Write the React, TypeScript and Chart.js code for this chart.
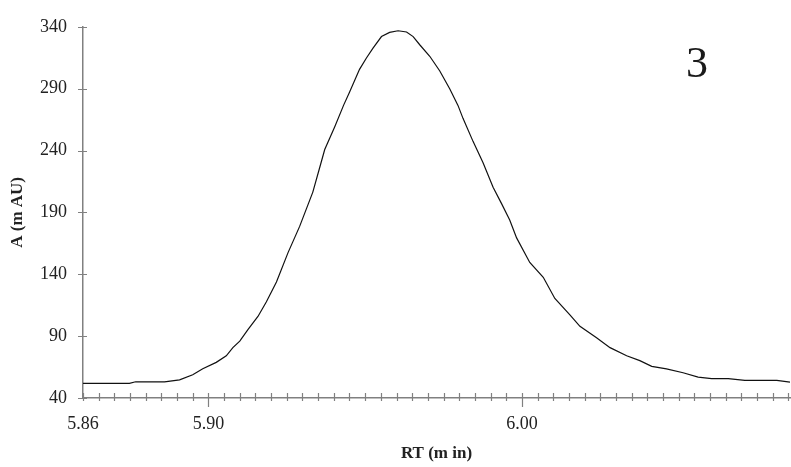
import React, { useEffect, useRef } from 'react';
import { Chart, registerables } from 'chart.js';

Chart.register(...registerables);

// Retention time (min)
const RT = [
  5.86, 5.8748, 5.8768, 5.886, 5.8908, 5.895, 5.8982, 5.9025, 5.9057, 5.9078,
  5.91, 5.9126, 5.9158, 5.9185, 5.9217, 5.9254, 5.9291, 5.9333, 5.9355, 5.9371,
  5.9403, 5.9431, 5.945, 5.9482, 5.9504, 5.9525, 5.9552, 5.9578, 5.9605, 5.9632,
  5.9653, 5.9674, 5.9706, 5.9738, 5.977, 5.9796, 5.9812, 5.9844, 5.9876, 5.9908,
  5.9935, 5.9961, 5.9983, 6.0025, 6.0068, 6.0105, 6.0153, 6.0185, 6.0238, 6.0281,
  6.0334, 6.0376, 6.0414, 6.0461, 6.0514, 6.0562, 6.0605, 6.0658, 6.0711, 6.0813,
  6.0855,
];
// Absorbance (mAU)
const ABS = [
  51.9, 51.9, 53.1, 53.1, 54.7, 58.8, 63.6, 68.8, 74.1, 80.7,
  86.0, 95.3, 105.9, 117.8, 133.7, 157.5, 178.7, 206.4, 226.3, 240.8,
  259.3, 276.5, 287.1, 305.6, 314.8, 322.8, 332.1, 335.5, 336.8, 335.8,
  332.1, 325.5, 316.2, 304.3, 289.8, 276.5, 266.0, 247.4, 230.2, 210.4,
  197.1, 183.9, 169.4, 149.5, 137.6, 120.4, 107.2, 97.9, 88.7, 80.7,
  74.1, 70.2, 65.6, 63.6, 60.4, 56.9, 55.6, 55.6, 54.3, 54.3,
  52.9,
];

const X_MIN = 5.86;
const X_MAX = 6.0855;
const X_LABEL_TICKS = [5.86, 5.9, 6.0];
const X_MAJOR_TICKS = [5.9, 6.0];
const X_MINOR_STEP = 0.005;
const Y_TICKS = [40, 90, 140, 190, 240, 290, 340];
const PEAK_LABEL = '3';

const SERIF = '"Liberation Serif", "Times New Roman", serif';
const AXIS_COLOR = '#808080';

export default function App() {
  const ref = useRef<HTMLCanvasElement>(null);

  useEffect(() => {
    document.body.style.margin = '0';
    const canvas = ref.current;
    if (!canvas) return;

    const crossTicks = {
      id: 'crossTicks',
      afterDraw(chart: any) {
        const { ctx, chartArea } = chart;
        const x = chart.scales.x;
        const y = chart.scales.y;
        ctx.save();
        ctx.strokeStyle = AXIS_COLOR;
        ctx.lineWidth = 1.2;
        ctx.beginPath();
        const yb = chartArea.bottom;
        for (let i = 0; ; i++) {
          const v = X_MIN + i * X_MINOR_STEP;
          if (v > X_MAX + 1e-9) break;
          const px = Math.round(x.getPixelForValue(v)) + 0.5;
          const major = X_MAJOR_TICKS.some((m) => Math.abs(m - v) < 1e-6);
          ctx.moveTo(px, yb - 5);
          ctx.lineTo(px, major ? yb + 9 : yb + 3);
        }
        const xl = chartArea.left;
        for (const v of Y_TICKS) {
          const py = Math.round(y.getPixelForValue(v)) + 0.5;
          ctx.moveTo(xl - 5, py);
          ctx.lineTo(xl + 4, py);
        }
        ctx.stroke();

        ctx.fillStyle = '#1a1a1a';
        ctx.font = `44px ${SERIF}`;
        ctx.textAlign = 'center';
        ctx.textBaseline = 'alphabetic';
        ctx.fillText(PEAK_LABEL, chartArea.right - 93, chartArea.top + 50);
        ctx.restore();
      },
    };

    const chart = new Chart(canvas, {
      type: 'line',
      data: {
        datasets: [
          {
            data: RT.map((t, i) => ({ x: t, y: ABS[i] })),
            borderColor: '#111111',
            borderWidth: 1.2,
            pointRadius: 0,
            tension: 0,
            fill: false,
          },
        ],
      },
      options: {
        responsive: false,
        animation: false,
        layout: { padding: { top: 20, right: 1, left: 0, bottom: 0 } },
        plugins: {
          legend: { display: false },
          tooltip: { enabled: false },
        },
        scales: {
          x: {
            type: 'linear',
            min: X_MIN,
            max: X_MAX,
            afterBuildTicks: (scale: any) => {
              scale.ticks = X_LABEL_TICKS.map((v) => ({ value: v }));
            },
            afterFit: (scale: any) => {
              scale.height = 69;
            },
            grid: { display: false, drawTicks: false },
            border: { display: true, color: AXIS_COLOR, width: 1.5 },
            ticks: {
              autoSkip: false,
              maxRotation: 0,
              padding: 15,
              color: '#222',
              font: { family: SERIF, size: 18 },
              callback: (v: any) => Number(v).toFixed(2),
            },
            title: {
              display: true,
              text: 'RT (m in)',
              color: '#222',
              font: { family: SERIF, size: 17, weight: 'bold' },
              padding: { top: 14, bottom: 3 },
            },
          },
          y: {
            min: 40,
            max: 340,
            afterBuildTicks: (scale: any) => {
              scale.ticks = Y_TICKS.map((v) => ({ value: v }));
            },
            afterFit: (scale: any) => {
              scale.width = 83;
            },
            grid: { display: false, drawTicks: false },
            border: { display: true, color: AXIS_COLOR, width: 1.5 },
            ticks: {
              autoSkip: false,
              padding: 16,
              color: '#222',
              font: { family: SERIF, size: 18 },
            },
            title: {
              display: true,
              text: 'A (m AU)',
              color: '#222',
              font: { family: SERIF, size: 17, weight: 'bold' },
              padding: { top: 7, bottom: 4 },
            },
          },
        },
      },
      plugins: [crossTicks],
    });

    return () => chart.destroy();
  }, []);

  return <canvas ref={ref} width={791} height={467} style={{ display: 'block' }} />;
}
